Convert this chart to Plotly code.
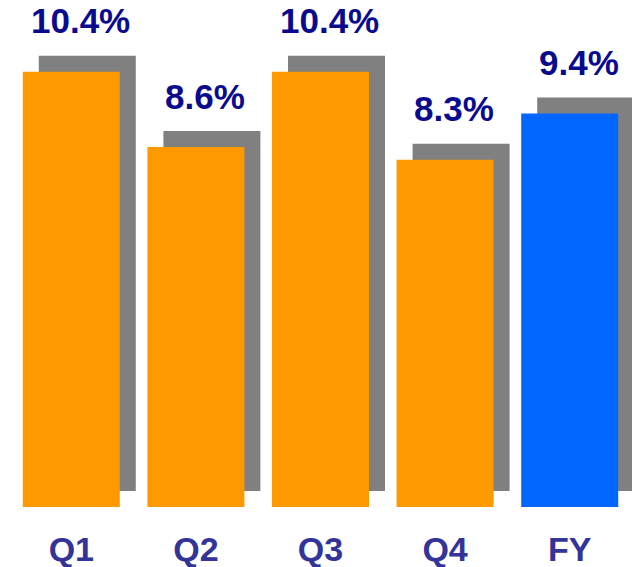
import plotly.graph_objects as go

categories = ["Q1", "Q2", "Q3", "Q4", "FY"]
values = [10.4, 8.6, 10.4, 8.3, 9.4]
labels = ["10.4%", "8.6%", "10.4%", "8.3%", "9.4%"]
bar_colors = ["#FF9900", "#FF9900", "#FF9900", "#FF9900", "#0066FF"]

W, H = 632, 567
ml, mr, mt, mb = 9, 0, 0, 60
plot_h = H - mt - mb
ymax = 12.115
px_per_unit = plot_h / ymax
cat_px = (W - ml - mr) / len(categories)

bar_w = 97 / cat_px
shadow_px = 16
shadow_dx = shadow_px / cat_px
shadow_dy = shadow_px / px_per_unit

fig = go.Figure()
fig.add_trace(go.Bar(
    x=categories, y=values, base=shadow_dy,
    width=bar_w, offset=-bar_w / 2 + shadow_dx,
    marker=dict(color="#808080", line=dict(width=0)),
    hoverinfo="skip", showlegend=False,
))
fig.add_trace(go.Bar(
    x=categories, y=values,
    width=bar_w, offset=-bar_w / 2,
    marker=dict(color=bar_colors, line=dict(width=0)),
    showlegend=False,
))

for c, v, t in zip(categories, values, labels):
    fig.add_annotation(
        x=c, y=v, text=t, showarrow=False,
        xanchor="center", yanchor="middle", xshift=9, yshift=51,
        font=dict(family="Liberation Sans, Arial, sans-serif", size=35,
                  color="#0A0A8F", weight="bold"),
    )

fig.update_layout(
    width=W, height=H,
    margin=dict(l=ml, r=mr, t=mt, b=mb),
    paper_bgcolor="white", plot_bgcolor="white",
    barmode="overlay",
    xaxis=dict(range=[-0.5, 4.5], showgrid=False, zeroline=False,
               showline=False, ticks="", ticklabelstandoff=19,
               tickfont=dict(family="Liberation Sans, Arial, sans-serif",
                             size=34, color="#333399", weight="bold")),
    yaxis=dict(range=[0, ymax], visible=False),
)

fig.write_html("out.html", config={"displayModeBar": False},
               post_script="document.body.style.margin='0';document.body.style.padding='0';")
